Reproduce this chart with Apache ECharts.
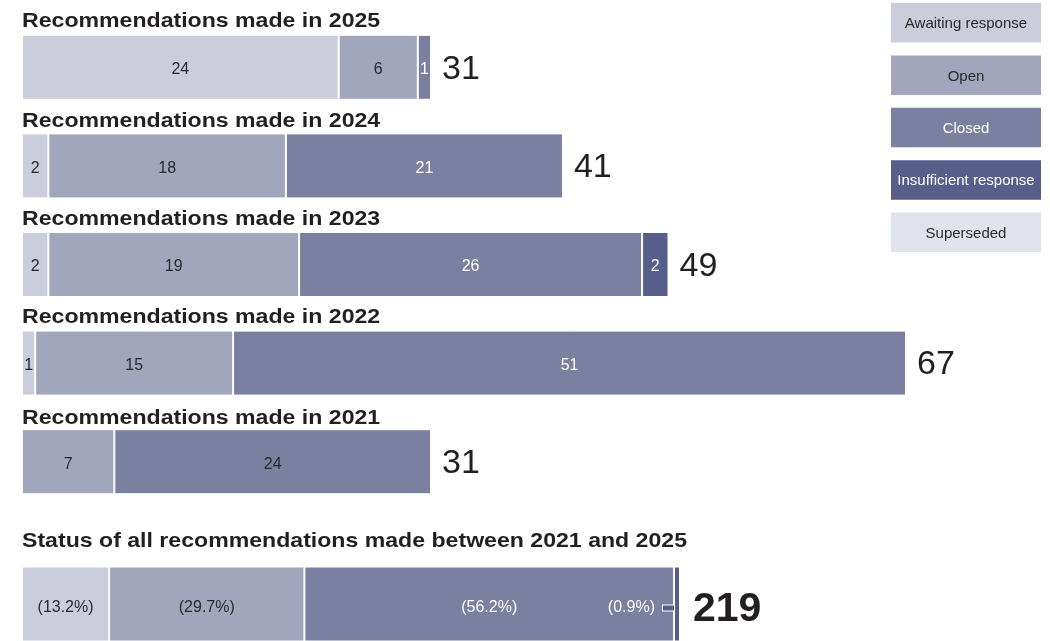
<!DOCTYPE html>
<html>
<head>
<meta charset="utf-8">
<script src="https://cdn.jsdelivr.net/npm/echarts@6/dist/echarts.min.js"></script>
<style>html,body{margin:0;padding:0;background:#fff}#c{width:1050px;height:641px}</style>
</head>
<body>
<div id="c"></div>
<script>
// ---- data ----
const years = ['2025', '2024', '2023', '2022', '2021'];
const statuses = ['Awaiting response', 'Open', 'Closed', 'Insufficient response', 'Superseded'];
const awaiting = [24, 2, 2, 1, 0];
const openRec = [6, 18, 19, 15, 7];
const closed = [1, 21, 26, 51, 24];
const insufficient = [0, 0, 2, 0, 0];
const superseded = [0, 0, 0, 0, 0];
const yearTitlePrefix = 'Recommendations made in ';
const summaryTitle = 'Status of all recommendations made between 2021 and 2025';

// ---- styles ----
const FONT = '"Liberation Sans", Arial, Helvetica, sans-serif';
const colors = ['#cbcdda', '#a2a6bd', '#7b80a0', '#575e89', '#e1e3ec'];
const labelColors = ['#2a2a2a', '#2a2a2a', '#ffffff', '#ffffff', '#2a2a2a'];
const darkOverrides = { 2: [4] }; // closed segment for 2021 uses dark label
const DARK = '#231f20';

const valuesByStatus = [awaiting, openRec, closed, insufficient, superseded];
const totals = years.map((_, j) => valuesByStatus.reduce((s, arr) => s + arr[j], 0));
const statusTotals = valuesByStatus.map(arr => arr.reduce((s, v) => s + v, 0));
const grand = statusTotals.reduce((s, v) => s + v, 0);

const series = [];
valuesByStatus.forEach((arr, i) => {
  series.push({
    name: statuses[i], type: 'bar', stack: 'y', xAxisIndex: 0, yAxisIndex: 0,
    barWidth: 65, barGap: '-100%',
    itemStyle: { color: colors[i], borderColor: '#fff', borderWidth: 1 },
    label: { show: true, position: 'inside', offset: [0, 2.5], fontFamily: FONT, fontSize: 16, color: labelColors[i] },
    data: arr.map((v, j) => {
      if (!v) return null;
      const o = { value: v };
      if (darkOverrides[i] && darkOverrides[i].includes(j)) o.label = { color: '#2a2a2a' };
      return o;
    })
  });
});
series.push({
  name: 'total', type: 'bar', xAxisIndex: 0, yAxisIndex: 0, barWidth: 65, barGap: '-100%',
  silent: true, z: 1, itemStyle: { color: 'rgba(0,0,0,0)' },
  label: { show: true, position: 'right', distance: 11, offset: [0, 2], fontFamily: FONT, fontSize: 34, color: DARK },
  data: totals
});

statusTotals.forEach((v, i) => {
  if (!v) return;
  const isSmall = v / grand < 0.02;
  series.push({
    name: statuses[i], type: 'bar', stack: 'all', xAxisIndex: 1, yAxisIndex: 1,
    barWidth: 80, barGap: '-100%',
    itemStyle: { color: colors[i], borderColor: '#fff', borderWidth: 1 },
    label: {
      show: true, position: isSmall ? 'left' : 'inside', distance: isSmall ? 0 : 5,
      offset: [0, 4],
      fontFamily: FONT, fontSize: 16, color: labelColors[i],
      formatter: p => {
        const t = '(' + (p.value / grand * 100).toFixed(1) + '%)';
        return isSmall ? t + '{gap|}{lead|}' : t;
      },
      rich: {
        gap: { width: 8, height: 6 },
        lead: { width: 11, height: 5, backgroundColor: colors[i], borderColor: '#fff', borderWidth: 1 }
      }
    },
    data: [v]
  });
});
series.push({
  name: 'grand', type: 'bar', xAxisIndex: 1, yAxisIndex: 1, barWidth: 80, barGap: '-100%',
  silent: true, z: 1, itemStyle: { color: 'rgba(0,0,0,0)' },
  label: { show: true, position: 'right', distance: 13, offset: [0, 6], fontFamily: FONT, fontSize: 41, fontWeight: 'bold', color: DARK },
  data: [grand]
});

const graphics = [];
const titleY = [21, 121, 219, 317.5, 418];
years.forEach((y, j) => {
  graphics.push({ type: 'text', x: 22, y: titleY[j], scaleX: 1.155, style: {
    text: yearTitlePrefix + y, font: 'bold 20px ' + FONT, fill: DARK, verticalAlign: 'middle' } });
});
graphics.push({ type: 'text', x: 22, y: 541, scaleX: 1.10, style: {
  text: summaryTitle, font: 'bold 21px ' + FONT, fill: DARK, verticalAlign: 'middle' } });
statuses.forEach((s, i) => {
  const top = 3 + i * 52.4;
  graphics.push({ type: 'rect', shape: { x: 891, y: top, width: 150, height: 39.5 }, style: { fill: colors[i] } });
  graphics.push({ type: 'text', x: 966, y: top + 21, style: {
    text: s, font: '15px ' + FONT, fill: labelColors[i], align: 'center', verticalAlign: 'middle' } });
});

const chart = echarts.init(document.getElementById('c'));
chart.setOption({
  animation: false,
  grid: [
    { left: 22, width: 884, top: 18, height: 493 },
    { left: 22, width: 658, top: 567, height: 80 }
  ],
  xAxis: [
    { gridIndex: 0, type: 'value', min: 0, max: Math.max(...totals), show: false },
    { gridIndex: 1, type: 'value', min: 0, max: grand, show: false }
  ],
  yAxis: [
    { gridIndex: 0, type: 'category', data: years, inverse: true, show: false },
    { gridIndex: 1, type: 'category', data: ['all'], show: false }
  ],
  graphic: graphics,
  series: series
});
</script>
</body>
</html>
